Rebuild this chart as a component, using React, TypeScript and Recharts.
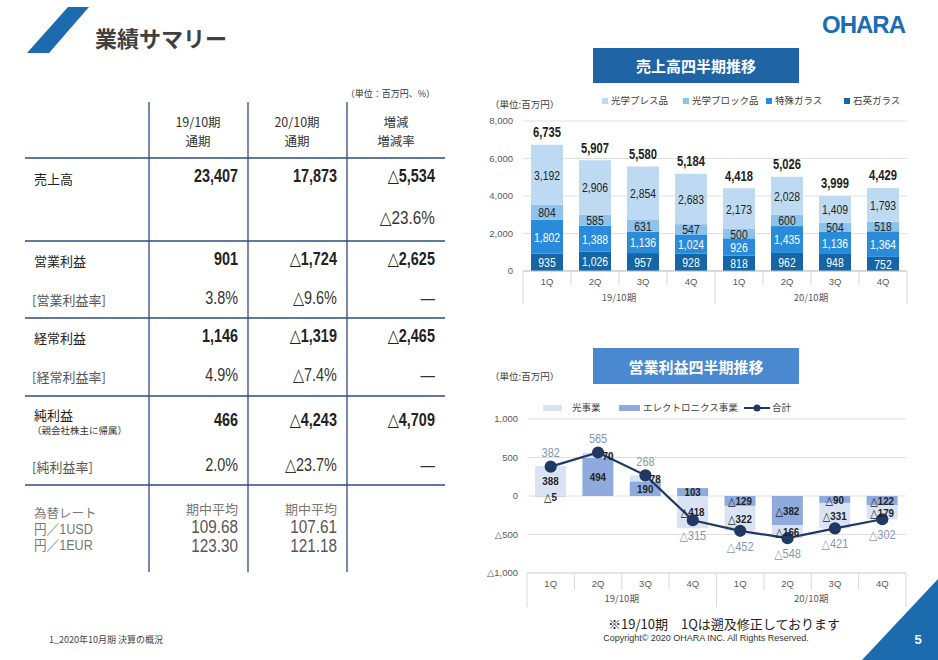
import React from 'react';
import { BarChart, Bar, ComposedChart, Line, XAxis, YAxis, CartesianGrid, LabelList } from 'recharts';

// ---------- data ----------
const quarterKeys = ['19-1Q', '19-2Q', '19-3Q', '19-4Q', '20-1Q', '20-2Q', '20-3Q', '20-4Q'];
const quarterLabels = ['1Q', '2Q', '3Q', '4Q', '1Q', '2Q', '3Q', '4Q'];
const periods = ['19/10期', '20/10期'];

const pressGlass = [3192, 2906, 2854, 2683, 2173, 2028, 1409, 1793];
const blockGlass = [804, 585, 631, 547, 500, 600, 504, 518];
const specialGlass = [1802, 1388, 1136, 1024, 926, 1435, 1136, 1364];
const quartzGlass = [935, 1026, 957, 928, 818, 962, 948, 752];
const salesTotals = [6735, 5907, 5580, 5184, 4418, 5026, 3999, 4429];
const salesTicks = [0, 2000, 4000, 6000, 8000];

const opticalProfit = [388, 70, 78, -418, -322, -166, -331, -179];
const electronicsProfit = [-5, 494, 190, 103, -129, -382, -90, -122];
const profitTotals = [382, 565, 268, -315, -452, -548, -421, -302];
const profitTicks = [-1000, -500, 0, 500, 1000];

const tableHeaders = [['19/10期', '通期'], ['20/10期', '通期'], ['増減', '増減率']];
const salesRow = ['23,407', '17,873', '△5,534'];
const salesRate = '△23.6%';
const opRow = ['901', '△1,724', '△2,625'];
const opRate = ['3.8%', '△9.6%', '—'];
const ordRow = ['1,146', '△1,319', '△2,465'];
const ordRate = ['4.9%', '△7.4%', '—'];
const netRow = ['466', '△4,243', '△4,709'];
const netRate = ['2.0%', '△23.7%', '—'];
const fxUsd = ['109.68', '107.61'];
const fxEur = ['123.30', '121.18'];

const salesData = quarterKeys.map((k, i) => ({
  key: k,
  quartz: quartzGlass[i],
  special: specialGlass[i],
  block: blockGlass[i],
  press: pressGlass[i],
  total: salesTotals[i],
}));

const profitData = quarterKeys.map((k, i) => ({
  key: k,
  electronics: electronicsProfit[i],
  optical: opticalProfit[i],
  total: profitTotals[i],
}));

// ---------- styles ----------
const JP = '"Noto Sans CJK JP", "Noto Sans", sans-serif';
const NUM = '"Liberation Sans", Arial, "DejaVu Sans", "Noto Sans CJK JP", sans-serif';
const C = {
  press: '#BDDAF2',
  block: '#8DC2EC',
  special: '#2A8BDB',
  quartz: '#1565A9',
  optical: '#DAE3F3',
  electronics: '#8FAADC',
  line: '#1F3864',
  lineLabel: '#8497B0',
  brand: '#1C6BAE',
  table: '#2F4B7C',
};

const fmt = (v: number) => v.toLocaleString('en-US');
const fmtTri = (v: number) => (v < 0 ? '△' + Math.abs(v).toLocaleString('en-US') : v.toLocaleString('en-US'));

function T({ x, y, children, align = 'left', size = 13, weight = 400, color = '#222', family = JP, sx = 1 }: any) {
  const style: any = {
    position: 'absolute',
    top: y,
    fontSize: size,
    fontWeight: weight,
    color,
    fontFamily: family,
    whiteSpace: 'nowrap',
    lineHeight: 1,
    transform: `translateY(-50%) scaleX(${sx})`,
  };
  if (align === 'left') {
    style.left = x;
    style.transformOrigin = 'left center';
  } else if (align === 'right') {
    style.right = 938 - x;
    style.transformOrigin = 'right center';
  } else {
    style.left = x;
    style.transform = `translate(-50%,-50%) scaleX(${sx})`;
    style.transformOrigin = 'center center';
  }
  return <div style={style}>{children}</div>;
}

const getBox = (p: any) => {
  const vb = p.viewBox || {};
  return {
    x: p.x ?? vb.x ?? 0,
    y: p.y ?? vb.y ?? 0,
    width: p.width ?? vb.width ?? 0,
    height: p.height ?? vb.height ?? 0,
  };
};

// narrow label at the centre of a bar segment; small positive segments get nudged right (as in the slide)
const centerLabel = (fill: string, size: number, weight: number, sx: number, f: (v: number) => string, nudgeSmall = 0) => (p: any) => {
  const b = getBox(p);
  const small = nudgeSmall && p.value > 0 && p.value < 100;
  const cx = b.x + b.width / 2 + (small ? nudgeSmall : 0);
  const cy = b.y + b.height / 2;
  return (
    <text transform={`translate(${cx},${cy}) scale(${sx},1)`} textAnchor="middle" dominantBaseline="central"
      fontSize={size} fontWeight={weight} fill={fill} fontFamily={NUM}>
      {f(p.value)}
    </text>
  );
};

const totalLabel = (p: any) => {
  const b = getBox(p);
  const cx = b.x + b.width / 2;
  return (
    <text transform={`translate(${cx},${b.y - 12}) scale(0.8,1)`} textAnchor="middle" dominantBaseline="central"
      fontSize={14} fontWeight={700} fill="#222" fontFamily={NUM}>
      {fmt(p.value)}
    </text>
  );
};

const LineLabel = (p: any) => {
  const b = getBox(p);
  const neg = p.value < 0;
  return (
    <text transform={`translate(${b.x},${neg ? b.y + 15 : b.y - 14}) scale(0.88,1)`} textAnchor="middle" dominantBaseline="central"
      fontSize={12.5} fill={C.lineLabel} fontFamily={NUM}>
      {fmtTri(p.value)}
    </text>
  );
};

const makeTick = (plotWidth: number, shortLen: number, longLen: number, groupY: number) => (props: any) => {
  const { x, y, payload } = props;
  const i = payload.index;
  const n = quarterLabels.length;
  const band = plotWidth / n;
  const g = n / periods.length;
  const left = x - band / 2;
  const isGroupStart = i % g === 0;
  return (
    <g>
      <line x1={left} x2={left} y1={y} y2={y + (isGroupStart ? longLen : shortLen)} stroke="#D9D9D9" />
      {i === n - 1 && <line x1={x + band / 2} x2={x + band / 2} y1={y} y2={y + longLen} stroke="#D9D9D9" />}
      <text x={x} y={y + 10} textAnchor="middle" dominantBaseline="central" fontSize={9.5} fill="#595959" fontFamily={NUM}>
        {quarterLabels[i]}
      </text>
      {i % g === g / 2 - 1 && (
        <text x={x + band / 2} y={y + groupY} textAnchor="middle" dominantBaseline="central" fontSize={9.5} fill="#595959" fontFamily={JP}>
          {periods[Math.floor(i / g)]}
        </text>
      )}
    </g>
  );
};

function Legend1() {
  const items = [
    ['光学プレス品', C.press],
    ['光学ブロック品', C.block],
    ['特殊ガラス', C.special],
    ['石英ガラス', C.quartz],
  ];
  const xs = [602, 683, 766, 844];
  return (
    <>
      {items.map(([t, c], i) => (
        <div key={t} style={{ position: 'absolute', left: xs[i], top: 95, display: 'flex', alignItems: 'center', height: 12 }}>
          <div style={{ width: 6, height: 6, background: c, marginRight: 3 }} />
          <span style={{ fontSize: 9.5, color: '#404040', fontFamily: JP, lineHeight: 1 }}>{t}</span>
        </div>
      ))}
    </>
  );
}

function Legend2() {
  return (
    <>
      <div style={{ position: 'absolute', left: 543, top: 405, width: 19, height: 6, background: C.optical }} />
      <T x={572} y={408} size={9.5} color="#404040">光事業</T>
      <div style={{ position: 'absolute', left: 619, top: 405, width: 21, height: 6, background: C.electronics }} />
      <T x={643} y={408} size={9.5} color="#404040">エレクトロニクス事業</T>
      <svg style={{ position: 'absolute', left: 744, top: 402 }} width={26} height={12}>
        <line x1={0} x2={26} y1={6} y2={6} stroke={C.line} strokeWidth={2} />
        <circle cx={13} cy={6} r={3.5} fill={C.line} />
      </svg>
      <T x={772} y={408} size={9.5} color="#404040">合計</T>
    </>
  );
}

export default function App() {
  const sW = 450, sH = 230;
  const sM = { top: 36, right: 13, bottom: 5, left: 0 };
  const sYW = 53;
  const sPlotW = sW - sM.left - sM.right - sYW;

  const pW = 450, pH = 212;
  const pM = { top: 19, right: 14, bottom: 0, left: 0 };
  const pYW = 57;
  const pPlotW = pW - pM.left - pM.right - pYW;

  const colR = [238, 337, 435];
  const colC = [198, 297, 396];

  const valueRow = (vals: string[], y: number) =>
    vals.map((v, i) => (
      <T key={i + '-' + y} x={colR[i]} y={y} align="right" size={18} weight={700} family={NUM} color="#222" sx={0.8}>{v}</T>
    ));
  const rateRow = (vals: string[], y: number) =>
    vals.map((v, i) => (
      <T key={i + 'r' + y} x={colR[i]} y={y} align="right" size={18} weight={400} family={NUM} color="#333" sx={0.8}>{v}</T>
    ));

  return (
    <div style={{ position: 'absolute', left: 0, top: 0, width: 938, height: 660, background: '#fff', overflow: 'hidden', fontFamily: JP }}>
      <svg style={{ position: 'absolute', left: 0, top: 0 }} width={938} height={660}>
        <polygon points="68,7 89,7 49,53 27,53" fill={C.brand} />
        <polygon points="938,579 938,660 862,660" fill={C.brand} />
        {[149, 248, 347].map((x) => (
          <line key={x} x1={x} x2={x} y1={102} y2={572} stroke={C.table} strokeWidth={1.3} />
        ))}
        {[158, 241, 318, 396, 485].map((y) => (
          <line key={y} x1={25} x2={445} y1={y} y2={y} stroke={C.table} strokeWidth={1.3} />
        ))}
      </svg>

      <T x={95} y={37} size={22} weight={700} color="#404040">業績サマリー</T>
      <T x={822} y={25} size={24} weight={700} color="#1B6DB5" family='"Liberation Sans", Arial, sans-serif'>
        <span style={{ letterSpacing: -1 }}>OHARA</span>
      </T>

      <T x={435} y={93} align="right" size={9} color="#333">（単位：百万円、%）</T>
      {tableHeaders.map((h, i) => (
        <React.Fragment key={i}>
          <T x={colC[i]} y={122} align="center" size={12.5} color="#333">{h[0]}</T>
          <T x={colC[i]} y={141} align="center" size={12.5} color="#333">{h[1]}</T>
        </React.Fragment>
      ))}

      <T x={34} y={178} size={13}>売上高</T>
      {valueRow(salesRow, 176)}
      <T x={435} y={218} align="right" size={18} family={NUM} color="#333" sx={0.85}>{salesRate}</T>

      <T x={34} y={260} size={13}>営業利益</T>
      {valueRow(opRow, 259)}
      <T x={32} y={299} size={13} color="#555">[営業利益率]</T>
      {rateRow(opRate, 298)}

      <T x={34} y={337} size={13}>経常利益</T>
      {valueRow(ordRow, 336)}
      <T x={32} y={376} size={13} color="#555">[経常利益率]</T>
      {rateRow(ordRate, 375)}

      <T x={34} y={414} size={13}>純利益</T>
      <T x={32} y={431} size={9.5} color="#333">（親会社株主に帰属）</T>
      {valueRow(netRow, 420)}
      <T x={32} y={466} size={13} color="#555">[純利益率]</T>
      {rateRow(netRate, 465)}

      <T x={34} y={513} size={12.5} color="#777">為替レート</T>
      <T x={34} y={529} size={14} color="#777" family={NUM} sx={0.9}>円／1USD</T>
      <T x={34} y={545} size={14} color="#777" family={NUM} sx={0.9}>円／1EUR</T>
      {[0, 1].map((i) => (
        <React.Fragment key={'fx' + i}>
          <T x={colR[i]} y={508} align="right" size={13} color="#777">期中平均</T>
          <T x={colR[i]} y={527} align="right" size={18} color="#555" family={NUM} sx={0.85}>{fxUsd[i]}</T>
          <T x={colR[i]} y={546} align="right" size={18} color="#555" family={NUM} sx={0.85}>{fxEur[i]}</T>
        </React.Fragment>
      ))}

      <T x={49} y={639} size={9} color="#444">1_2020年10月期 決算の概況</T>

      {/* sales chart */}
      <div style={{ position: 'absolute', left: 593, top: 48, width: 206, height: 35, background: '#1F64A5', color: '#fff', fontSize: 15, fontWeight: 700, display: 'flex', alignItems: 'center', justifyContent: 'center' }}>
        売上高四半期推移
      </div>
      <T x={490} y={105} size={9.5} color="#404040">（単位:百万円）</T>
      <Legend1 />
      <div style={{ position: 'absolute', left: 470, top: 85 }}>
        <BarChart width={sW} height={sH} data={salesData} margin={sM} barCategoryGap={8}>
          <CartesianGrid vertical={false} stroke="#E0E0E0" />
          <XAxis dataKey="key" interval={0} tickSize={0} tickMargin={0} height={39} axisLine={{ stroke: '#BFBFBF' }} tickLine={false}
            tick={makeTick(sPlotW, 14, 33, 26)} />
          <YAxis domain={[0, 8000]} ticks={salesTicks} width={sYW} tickSize={0} tickMargin={10} axisLine={false} tickLine={false}
            tickFormatter={fmt} tick={{ fontSize: 9.5, fill: '#595959', fontFamily: NUM }} />
          <Bar dataKey="quartz" stackId="s" fill={C.quartz} isAnimationActive={false}>
            <LabelList dataKey="quartz" content={centerLabel('#fff', 13, 400, 0.8, fmt)} />
          </Bar>
          <Bar dataKey="special" stackId="s" fill={C.special} isAnimationActive={false}>
            <LabelList dataKey="special" content={centerLabel('#fff', 13, 400, 0.8, fmt)} />
          </Bar>
          <Bar dataKey="block" stackId="s" fill={C.block} isAnimationActive={false}>
            <LabelList dataKey="block" content={centerLabel('#222', 13, 400, 0.8, fmt)} />
          </Bar>
          <Bar dataKey="press" stackId="s" fill={C.press} isAnimationActive={false}>
            <LabelList dataKey="press" content={centerLabel('#222', 13, 400, 0.8, fmt)} />
            <LabelList dataKey="total" content={totalLabel} />
          </Bar>
        </BarChart>
      </div>

      {/* profit chart */}
      <div style={{ position: 'absolute', left: 593, top: 348, width: 206, height: 36, background: '#4A88CF', color: '#fff', fontSize: 15, fontWeight: 700, display: 'flex', alignItems: 'center', justifyContent: 'center' }}>
        営業利益四半期推移
      </div>
      <T x={490} y={377} size={9.5} color="#404040">（単位:百万円）</T>
      <Legend2 />
      <div style={{ position: 'absolute', left: 470, top: 400 }}>
        <ComposedChart width={pW} height={pH} data={profitData} margin={pM} barCategoryGap={8} stackOffset="sign">
          <CartesianGrid vertical={false} stroke="#E0E0E0" />
          <XAxis dataKey="key" interval={0} tickSize={0} tickMargin={0} height={39} axisLine={{ stroke: '#D9D9D9' }} tickLine={false}
            tick={makeTick(pPlotW, 17, 34, 25)} />
          <YAxis domain={[-1000, 1000]} ticks={profitTicks} width={pYW} tickSize={0} tickMargin={9} axisLine={false} tickLine={false}
            tickFormatter={fmtTri} tick={{ fontSize: 9.5, fill: '#595959', fontFamily: NUM }} />
          <Bar dataKey="electronics" stackId="p" fill={C.electronics} isAnimationActive={false}>
            <LabelList dataKey="electronics" content={centerLabel('#222', 11.5, 700, 0.85, fmtTri)} />
          </Bar>
          <Bar dataKey="optical" stackId="p" fill={C.optical} isAnimationActive={false}>
            <LabelList dataKey="optical" content={centerLabel('#222', 11.5, 700, 0.85, fmtTri, 10)} />
          </Bar>
          <Line dataKey="total" stroke={C.line} strokeWidth={2.2} dot={{ r: 5, fill: C.line, stroke: C.line }} isAnimationActive={false}>
            <LabelList dataKey="total" content={LineLabel} />
          </Line>
        </ComposedChart>
      </div>

      <T x={724} y={623} align="center" size={13} color="#222">※19/10期　1Qは遡及修正しております</T>
      <T x={706} y={638} align="center" size={9} color="#333" family={NUM}>Copyright© 2020 OHARA INC. All Rights Reserved.</T>
      <T x={918} y={639} align="center" size={13} weight={700} color="#fff" family={NUM}>5</T>
    </div>
  );
}
